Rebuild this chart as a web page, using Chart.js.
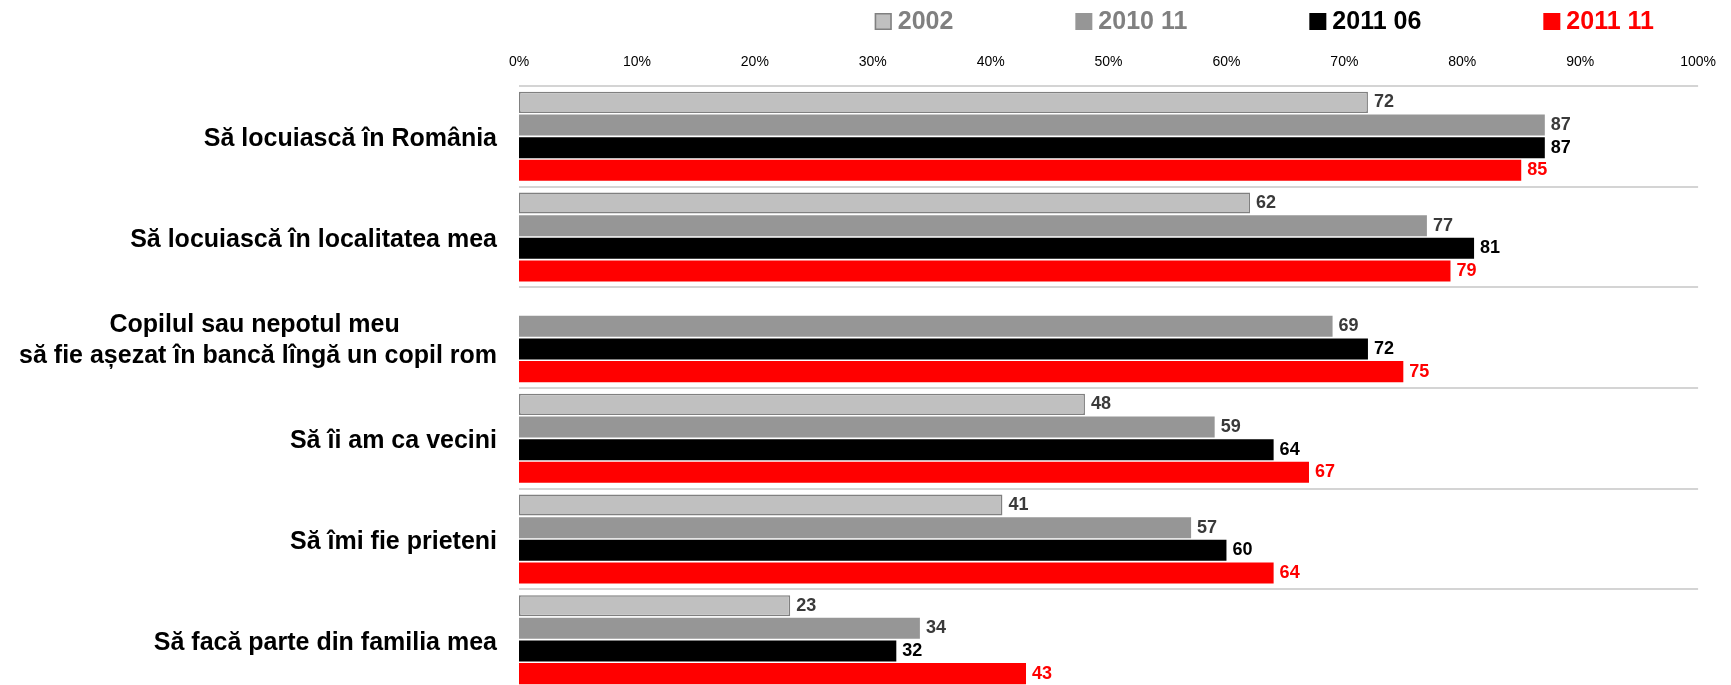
<!DOCTYPE html>
<html lang="ro">
<head>
<meta charset="utf-8">
<title>Atitudini față de romi</title>
<script src="https://cdn.jsdelivr.net/npm/chart.js@4/dist/chart.umd.min.js"></script>
<style>
  html, body { margin: 0; padding: 0; background: #fff; overflow: hidden; }
  canvas { display: block; }
</style>
</head>
<body>
<canvas id="chart" width="1731" height="690"></canvas>
<script>
// --- Date ---
const categories = [
  'Să locuiască în România',
  'Să locuiască în localitatea mea',
  ['Copilul sau nepotul meu' + ' '.repeat(14), 'să fie așezat în bancă lîngă un copil rom'],
  'Să îi am ca vecini',
  'Să îmi fie prieteni',
  'Să facă parte din familia mea'
];
const seriesNames = ['2002', '2010 11', '2011 06', '2011 11'];
const values2002 = [72, 62, null, 48, 41, 23];
const values201011 = [87, 77, 69, 59, 57, 34];
const values201106 = [87, 81, 72, 64, 60, 32];
const values201111 = [85, 79, 75, 67, 64, 43];
const tickValues = [0, 10, 20, 30, 40, 50, 60, 70, 80, 90, 100];
const tickLabels = ['0%', '10%', '20%', '30%', '40%', '50%', '60%', '70%', '80%', '90%', '100%'];

const FONT = '"Liberation Sans", Arial, sans-serif';
const NARROW = '"Liberation Sans Narrow", "Arial Narrow", "Liberation Sans", Arial, sans-serif';

// legenda de sus, desenata manual
const topLegend = {
  id: 'topLegend',
  afterDraw(chart) {
    const ctx = chart.ctx;
    const y = 21;
    let x = chart.scales.x.getPixelForValue(30) + 2;
    ctx.save();
    ctx.font = 'bold 25px ' + FONT;
    ctx.textBaseline = 'middle';
    ctx.textAlign = 'left';
    chart.data.datasets.forEach(ds => {
      ctx.fillStyle = ds.backgroundColor;
      ctx.fillRect(x, y - 8, 17, 17);
      if (ds.borderWidth) {
        ctx.strokeStyle = ds.borderColor;
        ctx.lineWidth = 1.5;
        ctx.strokeRect(x + 0.75, y - 7.25, 15.5, 15.5);
      }
      ctx.fillStyle = ds.legendColor;
      ctx.fillText(ds.label, x + 23, y + 1);
      x += 23 + ctx.measureText(ds.label).width + 122;
    });
    ctx.restore();
  }
};

// valorile de la capatul barelor
const valueLabels = {
  id: 'valueLabels',
  afterDatasetsDraw(chart) {
    const ctx = chart.ctx;
    ctx.save();
    ctx.font = 'bold 18px ' + NARROW;
    ctx.textBaseline = 'middle';
    ctx.textAlign = 'left';
    chart.data.datasets.forEach((ds, i) => {
      chart.getDatasetMeta(i).data.forEach((bar, j) => {
        const v = ds.data[j];
        if (v === null || v === undefined) return;
        ctx.fillStyle = ds.labelColor;
        ctx.fillText(String(v), bar.x + 6, bar.y);
      });
    });
    ctx.restore();
  }
};

new Chart(document.getElementById('chart'), {
  type: 'bar',
  data: {
    labels: categories,
    datasets: [
      { label: seriesNames[0], data: values2002, backgroundColor: '#c0c0c0', borderColor: '#808080',
        borderWidth: 1.5, borderSkipped: false, legendColor: '#808080', labelColor: '#3a3a3a' },
      { label: seriesNames[1], data: values201011, backgroundColor: '#969696', borderWidth: 0,
        legendColor: '#808080', labelColor: '#3a3a3a' },
      { label: seriesNames[2], data: values201106, backgroundColor: '#000000', borderWidth: 0,
        legendColor: '#000000', labelColor: '#000000' },
      { label: seriesNames[3], data: values201111, backgroundColor: '#ff0000', borderWidth: 0,
        legendColor: '#ff0000', labelColor: '#ff0000' }
    ]
  },
  options: {
    indexAxis: 'y',
    responsive: false,
    animation: false,
    categoryPercentage: 0.9,
    barPercentage: 0.93,
    layout: { padding: { top: 40, right: 30, bottom: 0, left: 0 } },
    plugins: { legend: { display: false }, tooltip: { enabled: false } },
    scales: {
      x: {
        position: 'top',
        min: 0,
        max: 100,
        afterBuildTicks(s) { s.ticks = tickValues.map(v => ({ value: v })); },
        grid: { display: false, drawTicks: false },
        border: { display: false },
        ticks: {
          padding: 15,
          color: '#000',
          font: { family: FONT, size: 14 },
          callback: (v, i) => tickLabels[i]
        },
        afterFit(s) { s.height = 46; }
      },
      y: {
        grid: { color: '#d4d4d4', lineWidth: 2, drawTicks: false, offset: true },
        border: { display: false },
        ticks: {
          padding: 22,
          labelOffset: 3,
          color: '#000',
          font: { family: FONT, size: 25, weight: 'bold', lineHeight: 1.25 }
        },
        afterFit(s) {
          s.width = 519;
          s.paddingTop = 0;
          s.paddingBottom = 0;
        }
      }
    }
  },
  plugins: [topLegend, valueLabels]
});
</script>
</body>
</html>
